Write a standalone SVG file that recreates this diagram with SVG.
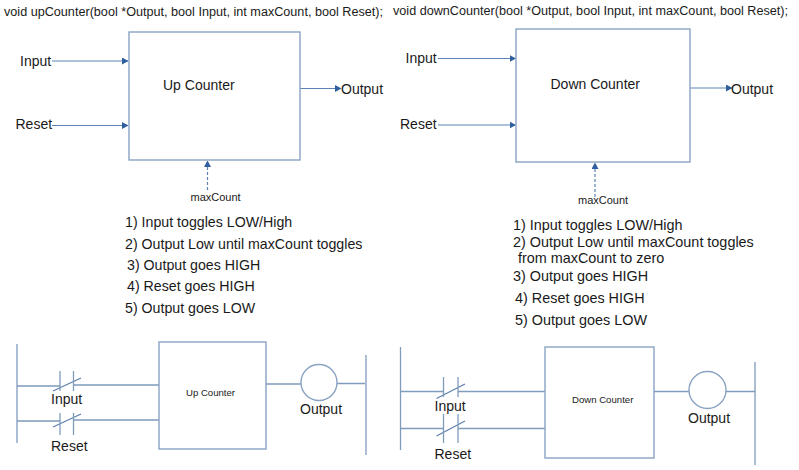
<svg xmlns="http://www.w3.org/2000/svg" width="799" height="470" viewBox="0 0 799 470">
<style>
text{font-family:"Liberation Sans",Arial,sans-serif;fill:#1a1a1a}
.box{fill:#fff;stroke:#8aa3c2;stroke-width:1.4}
.ln{fill:none;stroke:#7f9cbd;stroke-width:1.3}
.dk{fill:none;stroke:#5c7fab;stroke-width:1.2}
.ar{fill:none;stroke:#5b84b5;stroke-width:1.2;marker-end:url(#a)}
.da{stroke-dasharray:3 2}
.f14{font-size:14px}.su{font-size:14.2px}.sd{font-size:14.4px}.f12{font-size:12px}.f11{font-size:11px}.f10{font-size:9.6px}
</style>
<defs><marker id="a" markerUnits="userSpaceOnUse" markerWidth="7" markerHeight="8" refX="6" refY="3.5" orient="auto"><path d="M0 0L6.5 3.5L0 7Z" fill="#2f5f9e"/></marker></defs>
<rect width="799" height="470" fill="#fff"/>
<g id="signatures">
<text class="f12" x="4" y="16" textLength="379" lengthAdjust="spacingAndGlyphs">void upCounter(bool *Output, bool Input, int maxCount, bool Reset);</text>
<text class="f12" x="393" y="15" textLength="395" lengthAdjust="spacingAndGlyphs">void downCounter(bool *Output, bool Input, int maxCount, bool Reset);</text>
</g>
<g id="connectors">
<path class="ar" d="M52 61H128"/><path class="ar" d="M52 125.500H128"/><path class="ar" d="M300 88.500H341"/><path class="ar da" d="M207.500 190V161"/>
<path class="ar" d="M438 58.500H515.500"/><path class="ar" d="M438 125H515.500"/><path class="ar" d="M690 88H732"/><path class="ar da" d="M595 197V163"/>
<path class="ln" d="M17 386H60M73.500 385H159M17 421H60M73.500 420H159M266 384H301M337 383.500H365"/>
<path class="ln" d="M400 391.500H443.500M458 391.500H545M400 428.500H443.500M458 428.500H545M654 391.500H689M726 391.500H755"/>
<path class="dk" d="M53 391L81 378M53 427L81 414M436.500 398.500L465 384M436.500 436L465 421"/>
</g>
<g id="up-counter"><rect class="box" x="129" y="32" width="171" height="128"/><text class="f14" x="163" y="90">Up Counter</text></g>
<g id="down-counter"><rect class="box" x="516" y="29" width="174" height="133"/><text class="f14" x="550.500" y="89">Down Counter</text></g>
<g id="up-labels">
<text class="f14" x="20" y="66">Input</text><text class="f14" x="15.500" y="129">Reset</text><text class="f14" x="341" y="94">Output</text><text class="f11" x="190.500" y="201">maxCount</text>
</g>
<g id="down-labels">
<text class="f14" x="405.500" y="63">Input</text><text class="f14" x="400" y="129">Reset</text><text class="f14" x="731" y="94">Output</text><text class="f11" x="578" y="204">maxCount</text>
</g>
<g id="up-steps">
<text class="su" x="125" y="227">1) Input toggles LOW/High</text>
<text class="su" x="125" y="249">2) Output Low until maxCount toggles</text>
<text class="su" x="127" y="270">3) Output goes HIGH</text>
<text class="su" x="127" y="291">4) Reset goes HIGH</text>
<text class="su" x="125" y="313">5) Output goes LOW</text>
</g>
<g id="down-steps">
<text class="sd" x="513" y="230">1) Input toggles LOW/High</text>
<text class="sd" x="513" y="247">2) Output Low until maxCount toggles</text>
<text class="sd" x="518" y="263">from maxCount to zero</text>
<text class="sd" x="513" y="281">3) Output goes HIGH</text>
<text class="sd" x="515" y="303">4) Reset goes HIGH</text>
<text class="sd" x="515" y="325">5) Output goes LOW</text>
</g>
<g id="up-ladder">
<path class="ln" d="M17 344V443M366 355V455M60 371V391M73.500 371V391M60 413V435M73.500 413V435"/>
<rect class="box" x="159" y="342" width="107" height="107"/>
<text class="f10" x="186" y="396">Up Counter</text>
<circle class="box" cx="319" cy="382.500" r="18"/>
<text class="f14" x="51" y="404">Input</text><text class="f14" x="51" y="451">Reset</text><text class="f14" x="300" y="414">Output</text>
</g>
<g id="down-ladder">
<path class="ln" d="M400.500 347V450M755 362V465M443.500 377V397M458 377V397M443.500 414V443M458 414V443"/>
<rect class="box" x="545" y="347" width="109" height="111"/>
<text class="f10" x="572" y="403">Down Counter</text>
<circle class="box" cx="707.500" cy="390" r="18.500"/>
<text class="f14" x="434.500" y="411">Input</text><text class="f14" x="434.500" y="459">Reset</text><text class="f14" x="688" y="423">Output</text>
</g>
</svg>
